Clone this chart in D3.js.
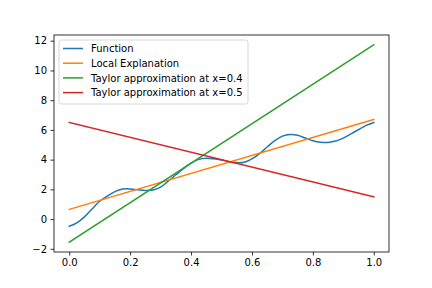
<!DOCTYPE html>
<html>
<head>
<meta charset="utf-8">
<script src="https://cdn.jsdelivr.net/npm/d3@7"></script>
<style>
  body { margin: 0; background: #fff; }
  text { font-family: "DejaVu Sans", sans-serif; }
</style>
</head>
<body>
<svg id="chart" width="432" height="288"></svg>
<script>
// values
const fnX = [0, 0.025, 0.05, 0.075, 0.1, 0.125, 0.15, 0.175, 0.2, 0.225, 0.25, 0.275, 0.3,
  0.325, 0.35, 0.375, 0.4, 0.425, 0.45, 0.475, 0.5, 0.525, 0.55, 0.575, 0.6, 0.625, 0.65,
  0.675, 0.7, 0.725, 0.75, 0.775, 0.8, 0.825, 0.85, 0.875, 0.9, 0.925, 0.95, 0.975, 1];
const fnY = [-0.48, -0.25, 0.15, 0.68, 1.2, 1.55, 1.85, 2.02, 2.03, 1.97, 1.92, 1.95, 2.15,
  2.55, 2.98, 3.4, 3.76, 4.02, 4.1, 4.06, 3.97, 3.85, 3.79, 3.82, 4.05, 4.4, 4.85,
  5.28, 5.58, 5.69, 5.64, 5.45, 5.27, 5.17, 5.16, 5.25, 5.45, 5.73, 6.02, 6.3, 6.5];
const lineX = [0, 1];
const localY = [0.65, 6.7];
const taylor04Y = [-1.55, 11.72];
const taylor05Y = [6.5, 1.5];
const seriesNames = ['Function', 'Local Explanation', 'Taylor approximation at x=0.4', 'Taylor approximation at x=0.5'];
const colors = ['#1f77b4', '#ff7f0e', '#2ca02c', '#d62728'];
const xTicks = [0, 0.2, 0.4, 0.6, 0.8, 1.0];
const yTicks = [-2, 0, 2, 4, 6, 8, 10, 12];

(() => {
  let svg;
  let x;
  let y;
  let plot;
  let line;
  let series;
  let allY;
  let pad;
  let legend;
  const left = 54, right = 389, top = 35, bottom = 252;

  svg = d3.select('#chart');

  series = [
    fnX.map((d, i) => [d, fnY[i]]),
    lineX.map((d, i) => [d, localY[i]]),
    lineX.map((d, i) => [d, taylor04Y[i]]),
    lineX.map((d, i) => [d, taylor05Y[i]])
  ];

  // matplotlib-style 5% margins
  allY = [].concat(fnY, localY, taylor04Y, taylor05Y);
  pad = (d3.max(allY) - d3.min(allY)) * 0.05;
  x = d3.scaleLinear().domain([-0.05, 1.05]).range([left, right]);
  y = d3.scaleLinear().domain([d3.min(allY) - pad, d3.max(allY) + pad]).range([bottom, top]);

  svg.append('clipPath').attr('id', 'clip')
    .append('rect').attr('x', left).attr('y', top)
    .attr('width', right - left).attr('height', bottom - top);

  line = d3.line().x(d => x(d[0])).y(d => y(d[1])).curve(d3.curveCatmullRom);

  plot = svg.append('g').attr('clip-path', 'url(#clip)');
  plot.selectAll('path').data(series).enter().append('path')
    .attr('d', line)
    .attr('fill', 'none')
    .attr('stroke', (d, i) => colors[i])
    .attr('stroke-width', 1.5)
    .attr('stroke-linecap', 'square');

  // axes
  svg.append('g')
    .attr('transform', `translate(0,${bottom})`)
    .call(d3.axisBottom(x).tickValues(xTicks).tickFormat(d3.format('.1f')).tickSize(3.5).tickPadding(3.5))
    .call(g => g.select('.domain').remove());
  svg.append('g')
    .attr('transform', `translate(${left},0)`)
    .call(d3.axisLeft(y).tickValues(yTicks).tickFormat(d3.format('d')).tickSize(3.5).tickPadding(3.5))
    .call(g => g.select('.domain').remove());
  svg.selectAll('.tick line').attr('stroke', '#000').attr('stroke-width', 0.8);
  svg.selectAll('.tick text').attr('fill', '#000').style('font-size', '10px')
    .style('font-family', '"DejaVu Sans", sans-serif');

  svg.append('rect')
    .attr('x', left).attr('y', top)
    .attr('width', right - left).attr('height', bottom - top)
    .attr('fill', 'none').attr('stroke', '#000').attr('stroke-width', 0.8);

  // legend
  legend = svg.append('g').attr('transform', `translate(${left + 5},${top + 5})`);
  legend.append('rect')
    .attr('width', 189).attr('height', 64).attr('rx', 2.5)
    .attr('fill', '#fff').attr('fill-opacity', 0.8)
    .attr('stroke', '#cccccc').attr('stroke-width', 0.8);
  seriesNames.forEach((name, i) => {
    let cy = 8.5 + i * 14.7;
    legend.append('line')
      .attr('x1', 4).attr('x2', 24).attr('y1', cy).attr('y2', cy)
      .attr('stroke', colors[i]).attr('stroke-width', 1.5);
    legend.append('text')
      .attr('x', 32).attr('y', cy).attr('dy', '0.36em')
      .style('font-size', '10px').attr('fill', '#000')
      .text(name);
  });
})();
</script>
</body>
</html>
